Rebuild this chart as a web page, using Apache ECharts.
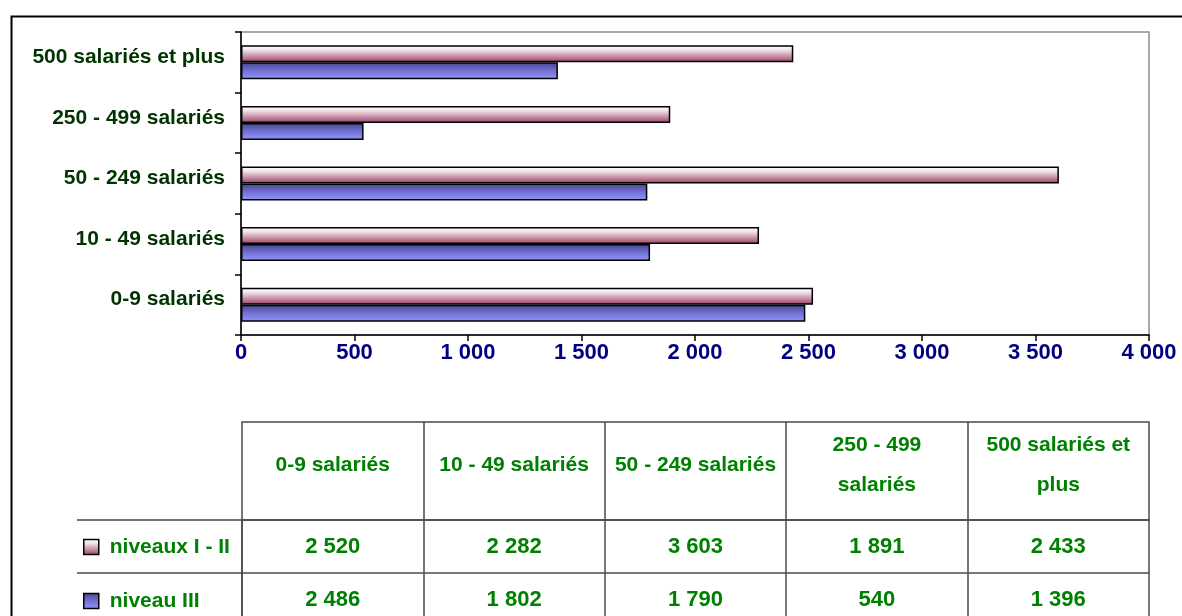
<!DOCTYPE html>
<html>
<head>
<meta charset="utf-8">
<script src="https://cdn.jsdelivr.net/npm/echarts@6/dist/echarts.min.js"></script>
<style>
html,body{margin:0;padding:0;background:#fff;}
#chart{width:1182px;height:616px;}
</style>
</head>
<body>
<div id="chart"></div>
<script>
// ---- data ----
var categories = ['0-9 salariés', '10 - 49 salariés', '50 - 249 salariés', '250 - 499 salariés', '500 salariés et plus'];
var tableHeaders = ['0-9 salariés', '10 - 49 salariés', '50 - 249 salariés', '250 - 499\nsalariés', '500 salariés et\nplus'];
var seriesNames = ['niveaux I - II', 'niveau III'];
var niveauxI_II = [2520, 2282, 3603, 1891, 2433];
var niveauIII = [2486, 1802, 1790, 540, 1396];
var xMin = 0, xMax = 4000, xInterval = 500;

function fmt(v) { return String(v).replace(/\B(?=(\d{3})+(?!\d))/g, ' '); }

var FONT = '"Liberation Sans", Arial, sans-serif';
var pinkGrad = new echarts.graphic.LinearGradient(0, 0, 0, 1, [
  {offset: 0, color: '#ffffff'}, {offset: 0.25, color: '#f4e8ed'}, {offset: 1, color: '#9c3f66'}]);
var blueGrad = new echarts.graphic.LinearGradient(0, 0, 0, 1, [
  {offset: 0, color: '#454590'}, {offset: 0.5, color: '#7272d2'}, {offset: 1, color: '#9494ff'}]);
var tableLine = {color: '#4a4a4a', width: 1.5};
var ROW_H = 53;                 // table row height in px
var TABLE_TOP = 520;
var N_ROWS = seriesNames.length;

var chart = echarts.init(document.getElementById('chart'), null, {renderer: 'canvas'});
var option = {
  animation: false,
  backgroundColor: '#ffffff',
  textStyle: {fontFamily: FONT},
  graphic: [{
    type: 'rect', left: 9, top: 14, z: -10,
    shape: {width: 1190, height: 640},
    style: {fill: 'none', stroke: '#000', lineWidth: 2}
  }],
  legend: {
    orient: 'vertical', left: 83, top: TABLE_TOP + ROW_H / 2 - 10,
    data: seriesNames, icon: 'rect',
    itemWidth: 15, itemHeight: 15, itemGap: ROW_H - 20,
    padding: 0,
    itemStyle: {borderColor: '#000', borderWidth: 1.5},
    textStyle: {color: '#008000', fontWeight: 'bold', fontSize: 21, fontFamily: FONT, lineHeight: 20, padding: [0, 0, 0, 6]}
  },
  grid: [
    {left: 241, right: 33, top: 32, height: 303, show: true, borderColor: '#8c8c8c', borderWidth: 1.5,
     containLabel: false, outerBoundsMode: 'none'},
    {left: 242, right: 33, top: TABLE_TOP, height: N_ROWS * ROW_H, containLabel: false, outerBoundsMode: 'none'}
  ],
  xAxis: [
    {
      type: 'value', gridIndex: 0, min: xMin, max: xMax, interval: xInterval,
      axisLine: {show: true, lineStyle: {color: '#000', width: 1.5}},
      axisTick: {show: true, length: 6, lineStyle: {color: '#000', width: 1.5}},
      splitLine: {show: false},
      axisLabel: {color: '#000080', fontWeight: 'bold', fontSize: 22, fontFamily: FONT, margin: 7, formatter: fmt}
    },
    {
      type: 'category', gridIndex: 1, position: 'top', data: tableHeaders,
      axisLine: {show: true, onZero: false, lineStyle: tableLine},
      axisTick: {show: true, length: 98, inside: false, lineStyle: tableLine},
      splitLine: {show: true, interval: 0, lineStyle: tableLine},
      axisLabel: {interval: 0, color: '#008000', fontWeight: 'bold', fontSize: 21, fontFamily: FONT, margin: 55, lineHeight: 40, verticalAlign: 'middle'}
    },
    {
      type: 'category', gridIndex: 1, position: 'top', offset: 98, data: tableHeaders,
      axisLine: {show: true, onZero: false, lineStyle: tableLine},
      axisTick: {show: false}, axisLabel: {show: false}, splitLine: {show: false}
    }
  ],
  yAxis: [
    {
      type: 'category', gridIndex: 0, data: categories,
      axisLine: {show: true, lineStyle: {color: '#000', width: 1.5}},
      axisTick: {show: true, length: 6, lineStyle: {color: '#000', width: 1.5}},
      axisLabel: {
        margin: 16,
        formatter: function (v) { return '{a|' + v + '}'; },
        rich: {a: {color: '#003300', fontWeight: 'bold', fontSize: 21, fontFamily: FONT, padding: [0, 0, 10, 0]}}
      }
    },
    {
      type: 'category', gridIndex: 1, inverse: true, data: seriesNames,
      axisLine: {show: true, onZero: false, lineStyle: tableLine},
      axisTick: {show: true, length: 165, lineStyle: tableLine},
      splitLine: {show: true, interval: 0, lineStyle: tableLine},
      axisLabel: {show: false}
    },
    {
      type: 'category', gridIndex: 1, inverse: true, offset: 165, data: seriesNames,
      axisLine: {show: true, onZero: false, lineStyle: tableLine},
      axisTick: {show: false}, axisLabel: {show: false}, splitLine: {show: false}
    }
  ],
  series: [
    {
      name: seriesNames[0], type: 'bar', xAxisIndex: 0, yAxisIndex: 0,
      data: niveauxI_II, barWidth: 17, barGap: '0%',
      itemStyle: {color: pinkGrad, borderColor: '#000', borderWidth: 1.5}
    },
    {
      name: seriesNames[1], type: 'bar', xAxisIndex: 0, yAxisIndex: 0,
      data: niveauIII, barWidth: 17, barGap: '0%',
      itemStyle: {color: blueGrad, borderColor: '#000', borderWidth: 1.5}
    },
    {
      type: 'scatter', xAxisIndex: 1, yAxisIndex: 1, symbol: 'rect', symbolSize: 1,
      itemStyle: {color: 'rgba(0,0,0,0)', opacity: 1}, silent: true,
      data: niveauxI_II.map(function (v, i) { return [i, 0, v]; })
        .concat(niveauIII.map(function (v, i) { return [i, 1, v]; })),
      label: {show: true, position: 'inside', color: '#008000', opacity: 1, fontWeight: 'bold', fontSize: 22, fontFamily: FONT,
        formatter: function (p) { return fmt(p.value[2]); }}
    }
  ]
};
chart.setOption(option);
</script>
</body>
</html>
